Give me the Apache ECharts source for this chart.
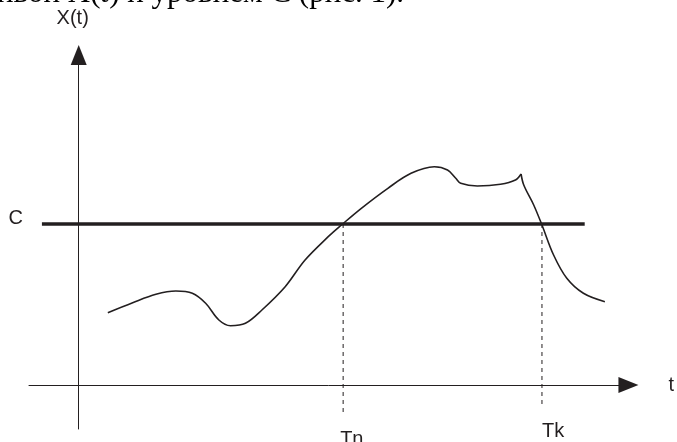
<!DOCTYPE html>
<html>
<head>
<meta charset="utf-8">
<script src="https://cdn.jsdelivr.net/npm/echarts@6/dist/echarts.min.js"></script>
<style>
  html, body { margin: 0; padding: 0; background: #fff; }
  #chart { width: 677px; height: 442px; }
</style>
</head>
<body>
<div id="chart"></div>
<script>
// кривая X(t), уровень C и моменты пересечения Tn, Tk
var riseCurve = [
    [2.93, 7.23], [5.43, 8.23], [7.77, 9.07], [9.77, 9.4], [11.43, 9.17],
    [12.77, 8.17], [14.1, 6.5], [15.27, 5.93], [16.77, 6.17], [18.43, 7.5],
    [20.77, 9.83], [22.77, 12.5], [25.1, 14.83], [26.43, 16.0], [28.43, 17.67],
    [31.1, 19.67], [33.43, 21.17], [35.77, 21.83], [37.1, 21.5], [37.93, 20.67],
    [38.43, 20.17], [40.1, 19.9], [42.43, 20.07], [43.93, 20.5], [44.5, 21.1]
];
var fallCurve = [
    [44.5, 21.1], [44.77, 20.0], [45.77, 18.0], [46.6, 16.0], [47.77, 13.0],
    [49.1, 10.67], [50.77, 9.17], [52.93, 8.33]
];
var levelC = 16.1;
var levelSpan = [-3.7, 50.9];
var crossT = [26.6, 46.6];
var crossLabels = ['Tn', 'Tk'];
var dropTo = [-2.7, -2.3];

var chart = echarts.init(document.getElementById('chart'));

var ink = '#231f20';
var fontFamily = 'Liberation Sans, Arial, sans-serif';
var labelGap = [17, 13];
var labelShift = [-3, 0];

var series = [{
    type: 'line',
    data: riseCurve,
    smooth: 0.35,
    symbol: 'none',
    lineStyle: { color: ink, width: 1.6 }
}, {
    type: 'line',
    data: fallCurve,
    smooth: 0.35,
    symbol: 'none',
    lineStyle: { color: ink, width: 1.6 }
}, {
    // уровень C
    type: 'line',
    data: [
        { value: [levelSpan[0], levelC], label: { show: true, formatter: 'C', position: 'left', distance: 19 } },
        [levelSpan[1], levelC]
    ],
    symbol: 'circle',
    symbolSize: 0,
    showSymbol: true,
    lineStyle: { color: ink, width: 3.5 },
    label: { color: ink, fontSize: 20, fontFamily: fontFamily, offset: [0, -6] }
}];

crossT.forEach(function (t, i) {
    series.push({
        type: 'line',
        data: [
            [t, levelC],
            { value: [t, dropTo[i]], label: { show: true, formatter: crossLabels[i], position: 'bottom', align: 'left', distance: labelGap[i] } }
        ],
        symbol: 'circle',
        symbolSize: 0,
        showSymbol: true,
        lineStyle: { color: ink, width: 1, type: [4, 4] },
        label: { color: ink, fontSize: 20, fontFamily: fontFamily, offset: [labelShift[i], 0] }
    });
});

var option = {
    animation: false,
    backgroundColor: '#fff',
    grid: { left: 29, right: 45, top: 55, bottom: 13 },
    xAxis: {
        type: 'value',
        min: -5,
        max: 55.3,
        name: 't',
        nameGap: 40,
        nameTextStyle: { color: ink, fontSize: 20, fontFamily: fontFamily },
        splitLine: { show: false },
        axisTick: { show: false },
        axisLabel: { show: false },
        axisLine: {
            onZero: true,
            symbol: ['none', 'triangle'],
            symbolSize: [16, 20],
            lineStyle: { color: ink, width: 1 }
        }
    },
    yAxis: {
        type: 'value',
        min: -4.4,
        max: 33,
        name: 'X(t)',
        nameGap: 27,
        nameTextStyle: { color: ink, fontSize: 20, fontFamily: fontFamily, align: 'center', padding: [0, 12, 0, 0] },
        splitLine: { show: false },
        axisTick: { show: false },
        axisLabel: { show: false },
        axisLine: {
            onZero: true,
            symbol: ['none', 'triangle'],
            symbolSize: [16, 20],
            lineStyle: { color: ink, width: 1 }
        }
    },
    graphic: [{
        type: 'text',
        left: -3,
        top: -22,
        style: {
            text: 'ивой X({it|t}) и уровнем С (рис. 1).',
            fontSize: 31,
            fontFamily: 'Liberation Serif',
            fill: '#000',
            rich: { it: { fontStyle: 'italic', fontSize: 31, fontFamily: 'Liberation Serif' } }
        }
    }],
    series: series
};

chart.setOption(option);
</script>
</body>
</html>
